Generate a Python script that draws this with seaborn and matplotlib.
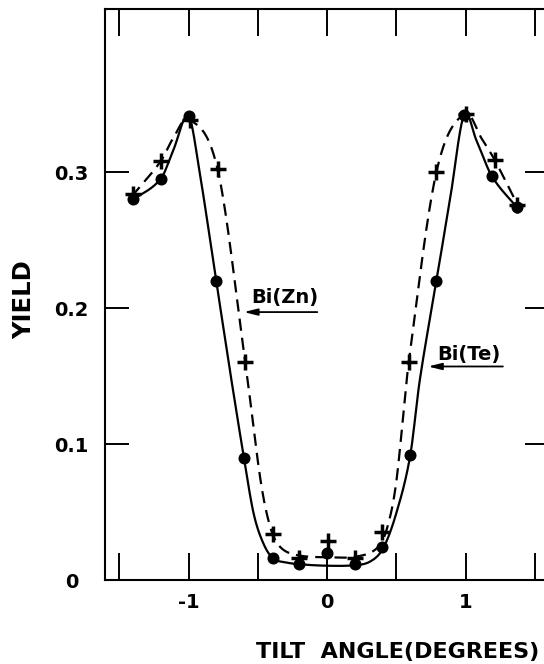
import numpy as np
import pandas as pd
import matplotlib
matplotlib.use("Agg")
import matplotlib.pyplot as plt
import seaborn as sns

# Measured points
bite_angle = [-1.40, -1.20, -1.00, -0.80, -0.60, -0.39, -0.20, 0.00, 0.20, 0.40, 0.60, 0.79, 0.99, 1.19, 1.37]
bite_yield = [0.280, 0.295, 0.341, 0.220, 0.090, 0.016, 0.012, 0.020, 0.012, 0.024, 0.092, 0.220, 0.342, 0.297, 0.274]

bizn_angle = [-1.40, -1.20, -0.99, -0.79, -0.59, -0.39, -0.20, 0.01, 0.20, 0.40, 0.59, 0.79, 1.00, 1.21, 1.37]
bizn_yield = [0.284, 0.308, 0.338, 0.302, 0.160, 0.034, 0.016, 0.029, 0.016, 0.0355, 0.160, 0.300, 0.343, 0.309, 0.276]

# Hand-drawn fit curves (knots along each curve)
bite_fit_x = [-1.41, -1.20, -1.11, -1.00, -0.92, -0.80, -0.69, -0.60, -0.53, -0.46, -0.39, -0.29, -0.19, 0.00,
              0.19, 0.31, 0.405, 0.50, 0.60, 0.67, 0.79, 0.89, 0.99, 1.08, 1.19, 1.38]
bite_fit_y = [0.279, 0.295, 0.316, 0.341, 0.300, 0.220, 0.147, 0.090, 0.049, 0.027, 0.016, 0.0128, 0.0115, 0.0105,
              0.0108, 0.0135, 0.0233, 0.049, 0.091, 0.147, 0.220, 0.281, 0.342, 0.323, 0.297, 0.273]

bizn_fit_x = [-1.41, -1.20, -1.11, -1.00, -0.79, -0.59, -0.48, -0.41, -0.34, -0.22, 0.00, 0.21, 0.36,
              0.43, 0.50, 0.59, 0.79, 0.996, 1.12, 1.21, 1.375]
bizn_fit_y = [0.282, 0.308, 0.325, 0.339, 0.302, 0.160, 0.0735, 0.039, 0.0245, 0.0184, 0.0167, 0.0172, 0.0233,
              0.0368, 0.072, 0.160, 0.300, 0.343, 0.324, 0.309, 0.276]

x_ticks = [-1.5, -1.0, -0.5, 0.0, 0.5, 1.0, 1.5]
x_tick_labels = ["", "-1", "", "0", "", "1", ""]
y_ticks = [0.0, 0.1, 0.2, 0.3]
y_tick_labels = ["0", "0.1", "0.2", "0.3"]


def smooth_curve(xk, yk, xs):
    """Cubic Hermite curve with finite-difference (Catmull-Rom style) tangents."""
    xk = np.asarray(xk, float)
    yk = np.asarray(yk, float)
    h = np.diff(xk)
    m = np.empty_like(yk)
    m[1:-1] = (yk[2:] - yk[:-2]) / (xk[2:] - xk[:-2])
    m[0] = (yk[1] - yk[0]) / h[0]
    m[-1] = (yk[-1] - yk[-2]) / h[-1]
    idx = np.clip(np.searchsorted(xk, xs) - 1, 0, len(xk) - 2)
    t = (xs - xk[idx]) / h[idx]
    h00 = 2 * t**3 - 3 * t**2 + 1
    h10 = t**3 - 2 * t**2 + t
    h01 = -2 * t**3 + 3 * t**2
    h11 = t**3 - t**2
    return (h00 * yk[idx] + h10 * h[idx] * m[idx]
            + h01 * yk[idx + 1] + h11 * h[idx] * m[idx + 1])


sns.set_theme(style="ticks")
plt.rcParams["font.family"] = ["DejaVu Sans"]
plt.rcParams["font.weight"] = "bold"
plt.rcParams["text.color"] = "black"
plt.rcParams["axes.labelcolor"] = "black"
plt.rcParams["xtick.color"] = "black"
plt.rcParams["ytick.color"] = "black"

W, H = 544, 664
fig = plt.figure(figsize=(W / 100, H / 100), dpi=100)
# axes frame extends slightly past the right edge of the page
ax = fig.add_axes([105.4 / W, 84 / H, 443.2 / W, 571.2 / H])

xs_te = np.linspace(bite_fit_x[0], bite_fit_x[-1], 800)
xs_zn = np.linspace(bizn_fit_x[0], bizn_fit_x[-1], 800)
fit_te = pd.DataFrame({"angle": xs_te, "yield": smooth_curve(bite_fit_x, bite_fit_y, xs_te)})
fit_zn = pd.DataFrame({"angle": xs_zn, "yield": smooth_curve(bizn_fit_x, bizn_fit_y, xs_zn)})

sns.lineplot(data=fit_te, x="angle", y="yield", ax=ax, color="black", lw=1.6,
             sort=False, estimator=None)
sns.lineplot(data=fit_zn, x="angle", y="yield", ax=ax, color="black", lw=1.6,
             sort=False, estimator=None, linestyle=(0, (5.5, 3.2)))

pts_te = pd.DataFrame({"angle": bite_angle, "yield": bite_yield})
pts_zn = pd.DataFrame({"angle": bizn_angle, "yield": bizn_yield})
sns.scatterplot(data=pts_zn, x="angle", y="yield", ax=ax, marker="+", s=130,
                color="black", linewidth=2.5, zorder=4)
sns.scatterplot(data=pts_te, x="angle", y="yield", ax=ax, marker="o", s=75,
                color="black", edgecolor="black", linewidth=0, zorder=5)

ax.set_xlim(-1.6, 1.6)
ax.set_ylim(0, 0.42)

ax.set_xticks(x_ticks)
ax.set_xticklabels(x_tick_labels)
ax.set_yticks(y_ticks)
ax.set_yticklabels(y_tick_labels)

ax.tick_params(axis="x", which="both", direction="in", length=19.5, width=1.4,
               top=True, bottom=True, labelsize=14, pad=9, color="black")
ax.tick_params(axis="y", which="both", direction="in", length=17, width=1.4,
               left=True, right=True, labelsize=14, pad=24.5, color="black")
for lab in ax.get_yticklabels():
    lab.set_horizontalalignment("center")
    lab.set_fontweight("bold")
for lab in ax.get_xticklabels():
    lab.set_fontweight("bold")

for side in ["left", "right", "top", "bottom"]:
    ax.spines[side].set_visible(True)
    ax.spines[side].set_linewidth(1.5)
    ax.spines[side].set_color("black")

ax.set_xlabel("TILT  ANGLE(DEGREES)", fontsize=16, fontweight="bold", va="center")
ax.xaxis.set_label_coords(0.660, -0.126)
ax.set_ylabel("YIELD", fontsize=17.5, fontweight="bold", va="center")
ax.yaxis.set_label_coords(-0.184, 0.490)

# Curve labels with arrows
ax.text(-0.303, 0.208, "Bi(Zn)", fontsize=14, fontweight="bold", ha="center", va="center")
ax.annotate("", xy=(-0.60, 0.197), xytext=(-0.07, 0.197),
            arrowprops=dict(arrowstyle="-|>,head_length=0.8,head_width=0.2",
                            color="black", lw=1.3, shrinkA=0, shrinkB=0,
                            mutation_scale=10))
ax.text(1.025, 0.166, "Bi(Te)", fontsize=14, fontweight="bold", ha="center", va="center")
ax.annotate("", xy=(0.73, 0.157), xytext=(1.27, 0.157),
            arrowprops=dict(arrowstyle="-|>,head_length=0.8,head_width=0.2",
                            color="black", lw=1.3, shrinkA=0, shrinkB=0,
                            mutation_scale=10))

fig.savefig("out.png", dpi=100, facecolor="white")
